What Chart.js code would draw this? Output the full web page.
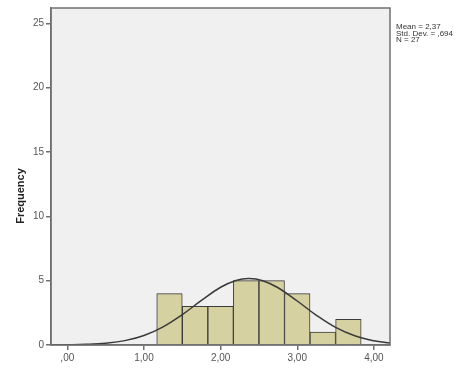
<!DOCTYPE html>
<html>
<head>
<meta charset="utf-8">
<script src="https://cdn.jsdelivr.net/npm/chart.js@4"></script>
<style>
  html, body { margin: 0; padding: 0; background: #ffffff; }
  #wrap { width: 464px; height: 371px; position: relative; }
</style>
</head>
<body>
<div id="wrap"><canvas id="c" width="464" height="371"></canvas></div>
<script>
// Histogram bins (centres) and frequencies
const binCenters = [1.333, 1.667, 2.0, 2.333, 2.667, 3.0, 3.333, 3.667];
const frequencies = [4, 3, 3, 5, 5, 4, 1, 2];
// Fitted normal curve
const curveX = [-0.2, 0, 0.25, 0.5, 0.75, 1.0, 1.25, 1.5, 1.75, 2.0, 2.2, 2.37, 2.55, 2.75, 3.0, 3.25, 3.5, 3.75, 4.0, 4.21];
const curveY = [0.005, 0.015, 0.05, 0.14, 0.34, 0.74, 1.41, 2.36, 3.47, 4.49, 5.02, 5.17, 5.00, 4.45, 3.42, 2.31, 1.37, 0.72, 0.33, 0.15];
const xTicks = [0, 1, 2, 3, 4];
const yTicks = [0, 5, 10, 15, 20, 25];
const statsLines = ['Mean = 2,37', 'Std. Dev. = ,694', 'N = 27'];
const yTitle = 'Frequency';

const fmtX = v => (v === 0 ? ',00' : v.toFixed(2).replace('.', ','));

const decor = {
  id: 'decor',
  beforeDraw(chart) {
    const { ctx, chartArea: a } = chart;
    ctx.save();
    ctx.fillStyle = '#f0f0f0';
    ctx.fillRect(a.left, a.top, a.right - a.left, a.bottom - a.top);
    ctx.restore();
  },
  afterDraw(chart) {
    const { ctx, chartArea: a } = chart;
    ctx.save();
    ctx.strokeStyle = '#707070';
    ctx.lineWidth = 1.5;
    ctx.strokeRect(a.left, a.top, a.right - a.left, a.bottom - a.top);
    // stats text
    ctx.fillStyle = '#333333';
    ctx.font = '8px "Liberation Sans", Arial, sans-serif';
    ctx.textBaseline = 'middle';
    ctx.textAlign = 'left';
    statsLines.forEach((t, i) => ctx.fillText(t, 396, 27 + i * 6.3));
    // y title
    ctx.translate(21, 196);
    ctx.rotate(-Math.PI / 2);
    ctx.textAlign = 'center';
    ctx.font = 'bold 11px "Liberation Sans", Arial, sans-serif';
    ctx.fillStyle = '#222222';
    ctx.fillText(yTitle, 0, 0);
    ctx.restore();
  }
};

new Chart(document.getElementById('c'), {
  type: 'bar',
  data: {
    datasets: [
      {
        type: 'line',
        data: curveX.map((x, i) => ({ x, y: curveY[i] })),
        borderColor: '#3a3a3a',
        borderWidth: 1.5,
        pointRadius: 0,
        fill: false,
        tension: 0.4,
        order: 0
      },
      {
        type: 'bar',
        data: binCenters.map((x, i) => ({ x, y: frequencies[i] })),
        backgroundColor: '#d6d1a1',
        borderColor: '#3c3c3c',
        borderWidth: 1,
        barPercentage: 1,
        categoryPercentage: 1,
        grouped: false,
        order: 1
      }
    ]
  },
  options: {
    responsive: false,
    animation: false,
    layout: { padding: { left: 0, right: 74, top: 6, bottom: 0 } },
    plugins: { legend: { display: false }, tooltip: { enabled: false } },
    scales: {
      x: {
        type: 'linear',
        offset: false,
        min: -0.213,
        max: 4.21,
        afterBuildTicks: s => { s.ticks = xTicks.map(v => ({ value: v })); },
        afterFit: s => { s.height = 26; },
        ticks: {
          callback: v => fmtX(v),
          color: '#555555',
          font: { size: 10, family: '"Liberation Sans", Arial, sans-serif' },
          padding: 2,
          maxRotation: 0,
          autoSkip: false
        },
        grid: { offset: false, drawOnChartArea: false, tickLength: 5, color: '#707070', lineWidth: 1.5 },
        border: { display: true, color: '#707070', width: 1.5 }
      },
      y: {
        min: 0,
        max: 26.2,
        afterBuildTicks: s => { s.ticks = yTicks.map(v => ({ value: v })); },
        afterFit: s => { s.width = 51; },
        ticks: {
          color: '#555555',
          font: { size: 10, family: '"Liberation Sans", Arial, sans-serif' },
          padding: 2,
          autoSkip: false
        },
        grid: { offset: false, drawOnChartArea: false, tickLength: 5, color: '#707070', lineWidth: 1.5 },
        border: { display: true, color: '#707070', width: 1.5 }
      }
    }
  },
  plugins: [decor]
});
</script>
</body>
</html>
